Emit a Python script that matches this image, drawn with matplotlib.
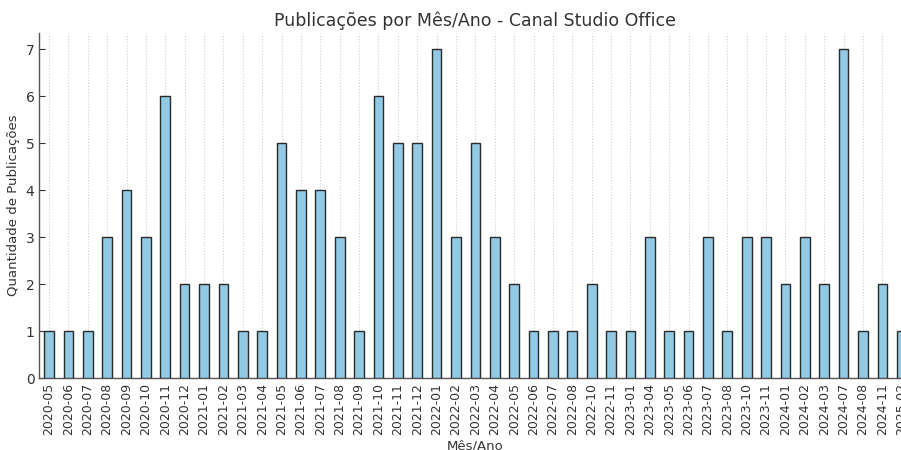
import matplotlib
matplotlib.use("Agg")
import matplotlib.pyplot as plt
import pandas as pd

# -------------------------
# Data
# -------------------------

meses = [
    "2020-05", "2020-06", "2020-07", "2020-08", "2020-09", "2020-10", "2020-11", "2020-12",
    "2021-01", "2021-02", "2021-03", "2021-04", "2021-05", "2021-06", "2021-07", "2021-08",
    "2021-09", "2021-10", "2021-11", "2021-12", "2022-01", "2022-02", "2022-03", "2022-04",
    "2022-05", "2022-06", "2022-07", "2022-08", "2022-10", "2022-11", "2023-01", "2023-04",
    "2023-05", "2023-06", "2023-07", "2023-08", "2023-10", "2023-11", "2024-01", "2024-02",
    "2024-03", "2024-07", "2024-08", "2024-11", "2025-02",
]

publicacoes = [
    1, 1, 1, 3, 4, 3, 6, 2,
    2, 2, 1, 1, 5, 4, 4, 3,
    1, 6, 5, 5, 7, 3, 5, 3,
    2, 1, 1, 1, 2, 1, 1, 3,
    1, 1, 3, 1, 3, 3, 2, 3,
    2, 7, 1, 2, 1,
]

data = pd.Series(publicacoes, index=meses)

# -------------------------
# Chart
# -------------------------

fig = plt.figure(figsize=(9.01, 4.5), dpi=100)
ax = fig.add_axes([0.0436, 0.16, 0.968, 0.767])

data.plot(kind="bar", ax=ax, color="#92c9e4", edgecolor="#2a2a2a",
          linewidth=1.0, width=0.5, zorder=3)

ax.set_title("Publicações por Mês/Ano - Canal Studio Office",
             fontsize=12.5, color="#333333", pad=5)
ax.set_xlabel("Mês/Ano", fontsize=9.5, color="#333333", labelpad=3)
ax.set_ylabel("Quantidade de Publicações", fontsize=9.5, color="#333333")

ax.set_ylim(0, 7.35)
ax.grid(axis="x", linestyle=":", color="#d0d0d0", linewidth=0.8, zorder=0)
ax.grid(axis="y", visible=False)

for side in ["top", "right"]:
    ax.spines[side].set_visible(False)
for side in ["left", "bottom"]:
    ax.spines[side].set_color("#555555")
    ax.spines[side].set_linewidth(1.0)

ax.tick_params(axis="both", direction="in", colors="#333333", labelsize=10, length=4)
ax.tick_params(axis="x", rotation=90, labelsize=9)

fig.savefig("out.png", dpi=100)
plt.close()
